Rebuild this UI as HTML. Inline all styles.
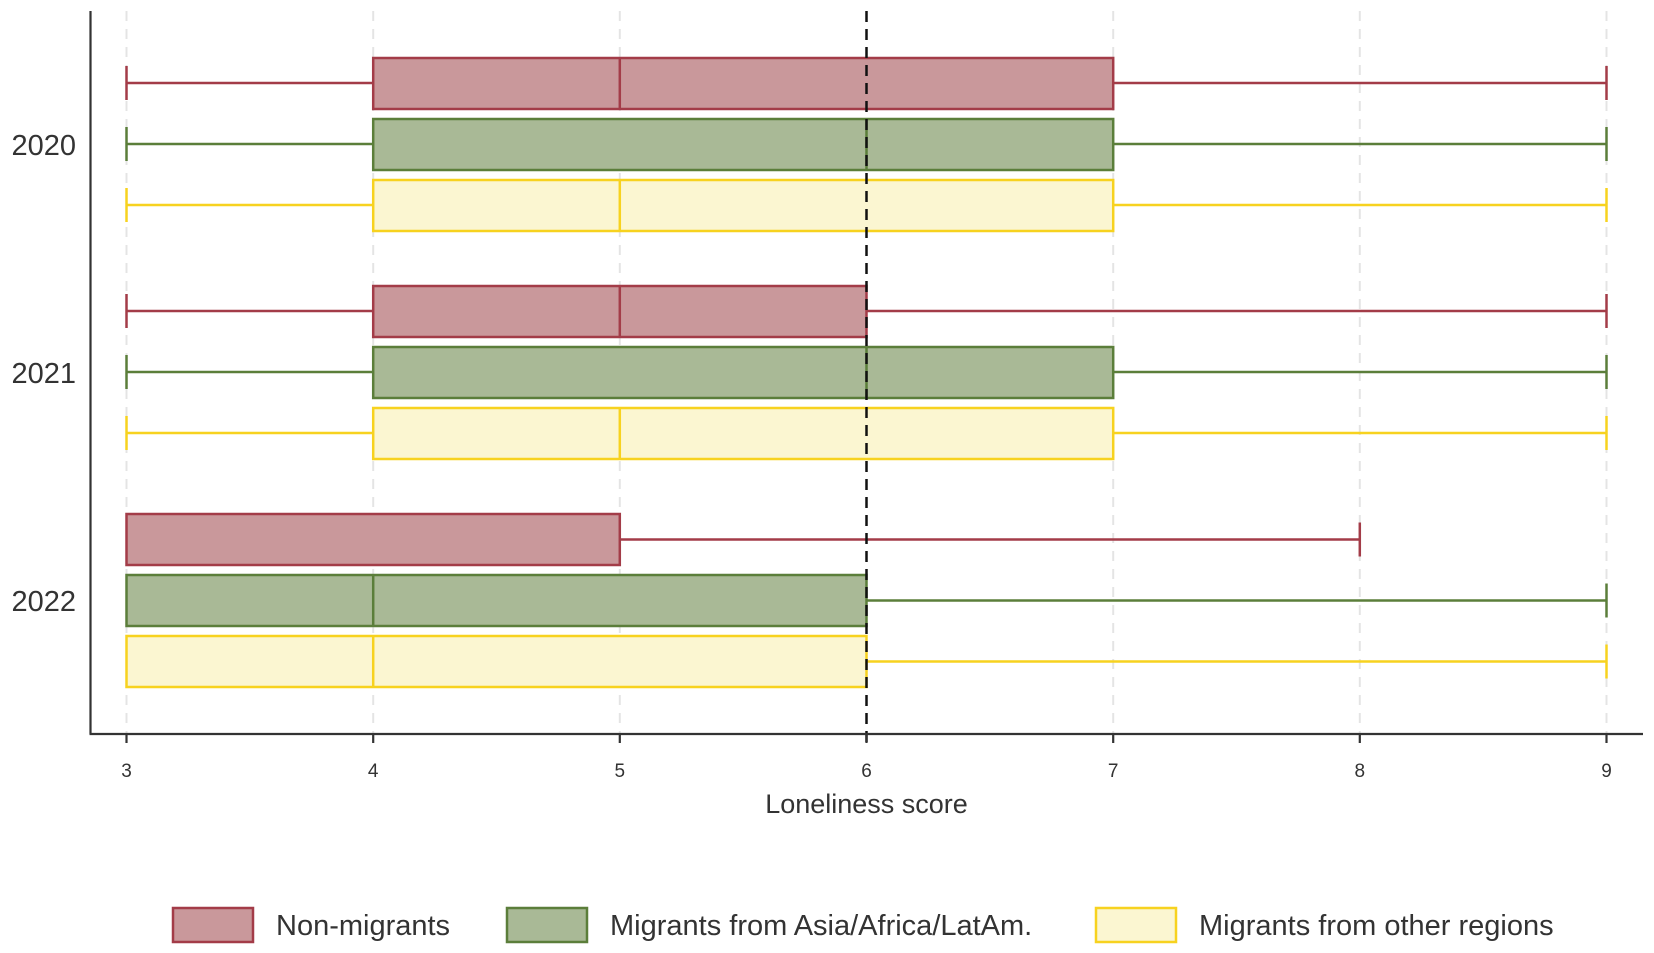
<!DOCTYPE html>
<html><head><meta charset="utf-8"><style>
html,body{margin:0;padding:0;background:#fff;}
svg{display:block;font-family:"Liberation Sans",Arial,sans-serif;}
</style></head><body>
<svg width="1654" height="953" viewBox="0 0 1654 953" xmlns="http://www.w3.org/2000/svg">
<g stroke="#e4e4e4" stroke-width="2" stroke-dasharray="10,8">
<line x1="126.5" y1="11" x2="126.5" y2="733"/><line x1="373.2" y1="11" x2="373.2" y2="733"/>
<line x1="619.8" y1="11" x2="619.8" y2="733"/><line x1="1113.2" y1="11" x2="1113.2" y2="733"/>
<line x1="1359.8" y1="11" x2="1359.8" y2="733"/><line x1="1606.5" y1="11" x2="1606.5" y2="733"/>
</g>
<g id="boxes" stroke-width="2.5">
<g stroke="#a33c48" fill="#c9989b">
<line x1="126.5" y1="83" x2="373.2" y2="83"/><line x1="1113.2" y1="83" x2="1606.5" y2="83"/>
<line x1="126.5" y1="66" x2="126.5" y2="100"/><line x1="1606.5" y1="66" x2="1606.5" y2="100"/>
<rect x="373.2" y="58" width="740" height="51"/><line x1="619.8" y1="58" x2="619.8" y2="109"/></g>
<g stroke="#5b7e3a" fill="#a9b996">
<line x1="126.5" y1="144" x2="373.2" y2="144"/><line x1="1113.2" y1="144" x2="1606.5" y2="144"/>
<line x1="126.5" y1="127" x2="126.5" y2="161"/><line x1="1606.5" y1="127" x2="1606.5" y2="161"/>
<rect x="373.2" y="119" width="740" height="51"/><line x1="866.5" y1="119" x2="866.5" y2="170"/></g>
<g stroke="#f7d21f" fill="#fbf6d1">
<line x1="126.5" y1="205" x2="373.2" y2="205"/><line x1="1113.2" y1="205" x2="1606.5" y2="205"/>
<line x1="126.5" y1="188" x2="126.5" y2="222"/><line x1="1606.5" y1="188" x2="1606.5" y2="222"/>
<rect x="373.2" y="180" width="740" height="51"/><line x1="619.8" y1="180" x2="619.8" y2="231"/></g>
<g stroke="#a33c48" fill="#c9989b">
<line x1="126.5" y1="311" x2="373.2" y2="311"/><line x1="866.5" y1="311" x2="1606.5" y2="311"/>
<line x1="126.5" y1="294" x2="126.5" y2="328"/><line x1="1606.5" y1="294" x2="1606.5" y2="328"/>
<rect x="373.2" y="286" width="493.3" height="51"/><line x1="619.8" y1="286" x2="619.8" y2="337"/></g>
<g stroke="#5b7e3a" fill="#a9b996">
<line x1="126.5" y1="372" x2="373.2" y2="372"/><line x1="1113.2" y1="372" x2="1606.5" y2="372"/>
<line x1="126.5" y1="355" x2="126.5" y2="389"/><line x1="1606.5" y1="355" x2="1606.5" y2="389"/>
<rect x="373.2" y="347" width="740" height="51"/><line x1="866.5" y1="347" x2="866.5" y2="398"/></g>
<g stroke="#f7d21f" fill="#fbf6d1">
<line x1="126.5" y1="433" x2="373.2" y2="433"/><line x1="1113.2" y1="433" x2="1606.5" y2="433"/>
<line x1="126.5" y1="416" x2="126.5" y2="450"/><line x1="1606.5" y1="416" x2="1606.5" y2="450"/>
<rect x="373.2" y="408" width="740" height="51"/><line x1="619.8" y1="408" x2="619.8" y2="459"/></g>
<g stroke="#a33c48" fill="#c9989b">
<line x1="619.8" y1="539.5" x2="1359.8" y2="539.5"/>
<line x1="1359.8" y1="522.5" x2="1359.8" y2="556.5"/>
<rect x="126.5" y="514" width="493.3" height="51"/></g>
<g stroke="#5b7e3a" fill="#a9b996">
<line x1="866.5" y1="600.5" x2="1606.5" y2="600.5"/>
<line x1="1606.5" y1="583.5" x2="1606.5" y2="617.5"/>
<rect x="126.5" y="575" width="740" height="51"/><line x1="373.2" y1="575" x2="373.2" y2="626"/></g>
<g stroke="#f7d21f" fill="#fbf6d1">
<line x1="866.5" y1="661.5" x2="1606.5" y2="661.5"/>
<line x1="1606.5" y1="644.5" x2="1606.5" y2="678.5"/>
<rect x="126.5" y="636" width="740" height="51"/><line x1="373.2" y1="636" x2="373.2" y2="687"/></g>
</g>
<line x1="866.5" y1="11" x2="866.5" y2="742" stroke="#111" stroke-width="2.5" stroke-dasharray="11,7"/>
<g stroke="#333" stroke-width="2.2">
<line x1="90.5" y1="11" x2="90.5" y2="734"/><line x1="89.5" y1="734" x2="1643" y2="734"/>
<line x1="126.5" y1="734" x2="126.5" y2="743"/><line x1="373.2" y1="734" x2="373.2" y2="743"/>
<line x1="619.8" y1="734" x2="619.8" y2="743"/><line x1="866.5" y1="734" x2="866.5" y2="743"/>
<line x1="1113.2" y1="734" x2="1113.2" y2="743"/><line x1="1359.8" y1="734" x2="1359.8" y2="743"/>
<line x1="1606.5" y1="734" x2="1606.5" y2="743"/>
</g>
<g font-size="19" fill="#333" text-anchor="middle">
<text x="126.5" y="777">3</text><text x="373.2" y="777">4</text><text x="619.8" y="777">5</text>
<text x="866.5" y="777">6</text><text x="1113.2" y="777">7</text><text x="1359.8" y="777">8</text>
<text x="1606.5" y="777">9</text></g>
<g font-size="29" fill="#333" text-anchor="end">
<text x="76" y="155">2020</text><text x="76" y="383">2021</text><text x="76" y="611">2022</text></g>
<text x="866.5" y="813" font-size="27" fill="#333" text-anchor="middle">Loneliness score</text>
<g stroke-width="2.5">
<rect x="173" y="908" width="80" height="34" fill="#c9989b" stroke="#a33c48"/>
<rect x="507" y="908" width="80" height="34" fill="#a9b996" stroke="#5b7e3a"/>
<rect x="1096" y="908" width="80" height="34" fill="#fbf6d1" stroke="#f7d21f"/></g>
<g font-size="29" fill="#333">
<text x="276" y="935">Non-migrants</text>
<text x="610" y="935">Migrants from Asia/Africa/LatAm.</text>
<text x="1199" y="935">Migrants from other regions</text></g>
</svg>
</body></html>
